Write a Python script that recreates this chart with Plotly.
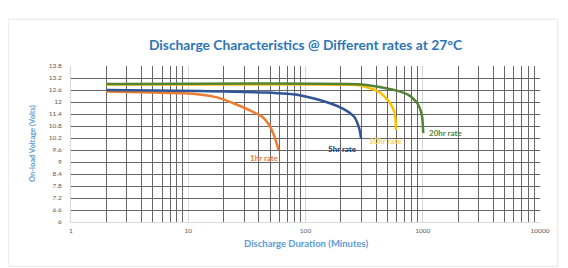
import math
import plotly.graph_objects as go

# ---- data ----
x_1hr = [2, 5, 10, 12.5, 18, 24, 33, 43, 49, 54.5, 59]
v_1hr = [12.52, 12.48, 12.42, 12.38, 12.22, 11.95, 11.6, 11.25, 10.85, 10.25, 9.6]

x_5hr = [2, 12.5, 46, 89, 150, 208, 261, 288, 298]
v_5hr = [12.6, 12.55, 12.47, 12.34, 12.0, 11.67, 11.25, 10.65, 10.17]

x_10hr = [2, 100, 250, 308, 426, 519, 572, 588, 591]
v_10hr = [12.88, 12.88, 12.86, 12.8, 12.5, 12.0, 11.5, 11.0, 10.6]

x_20hr = [2, 300, 426, 590, 767, 903, 984, 1010]
v_20hr = [12.9, 12.88, 12.75, 12.58, 12.33, 11.92, 11.33, 10.45]

series_names = ["1hr rate", "5hr rate", "10hr rate", "20hr rate"]
series_colors = ["#ED7D31", "#2F5597", "#FFC000", "#548235"]
label_colors = ["#ED7D31", "#203864", "#FFD24D", "#548235"]

x_tickvals = [1, 10, 100, 1000, 10000]
x_ticktext = ["1", "10", "100", "1000", "10000"]
x_minor = [m * d for d in [1, 10, 100, 1000] for m in range(2, 10)]

y_tickvals = [6, 6.6, 7.2, 7.8, 8.4, 9, 9.6, 10.2, 10.8, 11.4, 12, 12.6, 13.2, 13.8]
y_ticktext = ["6", "6.6", "7.2", "7.8", "8.4", "9", "9.6", "10.2", "10.8", "11.4", "12", "12.6", "13.2", "13.8"]

title_text = "Discharge Characteristics @ Different rates at 27°C"
x_title = "Discharge Duration (Minutes)"
y_title = "On-load Voltage (Volts)"

xs = [x_1hr, x_5hr, x_10hr, x_20hr]
vs = [v_1hr, v_5hr, v_10hr, v_20hr]

fig = go.Figure()
for name, x, v, c in zip(series_names, xs, vs, series_colors):
    fig.add_trace(go.Scatter(x=x, y=v, mode="lines", name=name,
                             line=dict(color=c, width=2.5, shape="spline", smoothing=0.6)))

# series labels near the end of each curve
label_pos = [
    dict(xanchor="right", yanchor="top", xshift=2, yshift=-1),
    dict(xanchor="right", yanchor="top", xshift=-2, yshift=-3),
    dict(xanchor="center", yanchor="top", xshift=-10, yshift=-4),
    dict(xanchor="left", yanchor="middle", xshift=4, yshift=0),
]
for name, x, v, lc, p in zip(series_names, xs, vs, label_colors, label_pos):
    fig.add_annotation(x=math.log10(x[-1]), y=v[-1], xref="x", yref="y", text=name,
                       showarrow=False, font=dict(family="Lato", size=8, color=lc, weight="bold"), **p)

axis_font = dict(family="Lato", size=6.5, color="#595959")
fig.update_xaxes(type="log", range=[0, 4], tickvals=x_tickvals, ticktext=x_ticktext,
                 showgrid=True, gridcolor="#D9D9D9", gridwidth=1,
                 minor=dict(tickvals=x_minor, showgrid=True, gridcolor="#666666", gridwidth=1.4),
                 showline=True, linecolor="#D9D9D9", linewidth=1, mirror=False,
                 ticks="", tickfont=axis_font, ticklabelstandoff=2, zeroline=False)
fig.update_yaxes(range=[6, 13.8], tickvals=y_tickvals, ticktext=y_ticktext,
                 showgrid=True, gridcolor="#666666", gridwidth=1.4,
                 showline=True, linecolor="#D9D9D9", linewidth=1,
                 ticks="", tickfont=axis_font, ticklabelstandoff=7, zeroline=False)

fig.add_annotation(xref="paper", yref="paper", x=0.5, y=0, yanchor="top", yshift=-14,
                   text=x_title, showarrow=False,
                   font=dict(family="Lato", size=9.5, color="#5B9BD5", weight="bold"))
fig.add_annotation(xref="paper", yref="paper", x=0, y=0.5, xanchor="center", xshift=-39,
                   text=y_title, textangle=-90, showarrow=False,
                   font=dict(family="Lato", size=7.5, color="#5B9BD5", weight="bold"))

# faint chart frame
fig.add_shape(type="rect", xref="paper", yref="paper", x0=-0.134, x1=1.038, y0=-0.284, y1=1.30,
              line=dict(color="#E6E6E6", width=1), layer="below")

# the page body has an 8px margin, so the figure is sized to fill the rest of the window
fig.update_layout(
    width=560, height=260,
    margin=dict(l=63, r=28, t=58, b=46, autoexpand=False),
    paper_bgcolor="white", plot_bgcolor="white",
    showlegend=False,
    title=dict(text=title_text, x=0.5, xref="paper", xanchor="center",
               y=1 - 37 / 260, yref="container", yanchor="middle",
               font=dict(family="Lato", size=13.8, color="#2E75B6", weight="bold")),
)

fig.write_html("out.html")
